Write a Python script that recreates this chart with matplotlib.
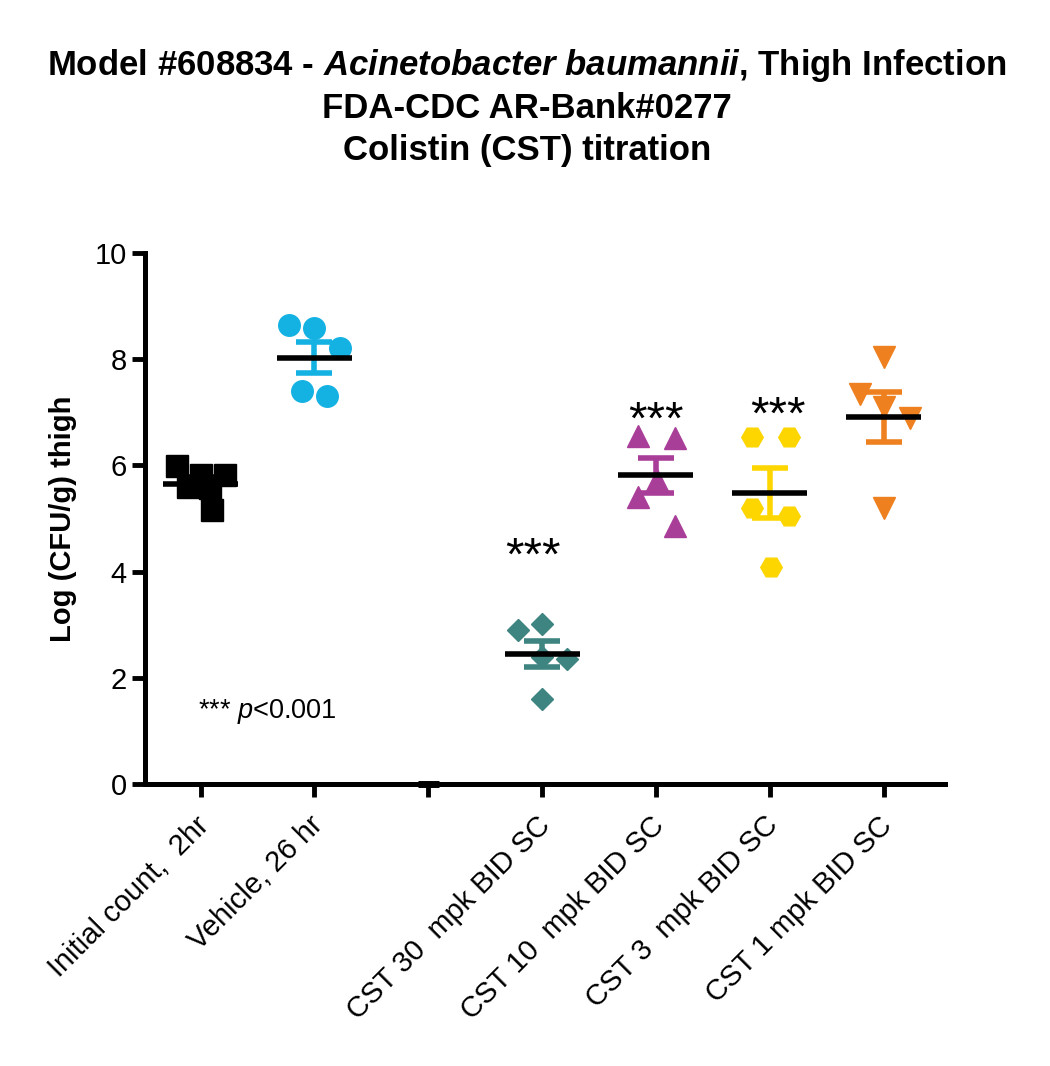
import numpy as np
import matplotlib.pyplot as plt
import matplotlib.transforms as mtransforms

plt.rcParams['font.family'] = ['Liberation Sans', 'DejaVu Sans']
plt.rcParams['mathtext.fontset'] = 'custom'
plt.rcParams['mathtext.rm'] = 'Liberation Sans'
plt.rcParams['mathtext.it'] = 'Liberation Sans:italic'
plt.rcParams['mathtext.bf'] = 'Liberation Sans:bold'
plt.rcParams['mathtext.bfit'] = 'Liberation Sans:italic:bold'

groups = ["Initial count,  2hr", "Vehicle, 26 hr", "", "CST 30  mpk BID SC",
          "CST 10  mpk BID SC", "CST 3  mpk BID SC", "CST 1 mpk BID SC"]

initial_2hr = [5.98, 5.82, 5.82, 5.59, 5.58, 5.16]
vehicle_26hr = [8.64, 8.59, 8.21, 7.40, 7.31]
cst_30 = [2.90, 3.01, 2.40, 2.35, 1.60]
cst_10 = [6.55, 6.52, 5.72, 5.41, 4.86]
cst_3 = [6.54, 6.54, 5.20, 5.05, 4.09]
cst_1 = [8.04, 7.35, 7.10, 6.90, 5.20]

# significance marks: (x, baseline y, text)
signif = [(2.92, 4.04, "***"), (4.0, 6.59, "***"), (5.07, 6.70, "***")]

# group index -> (values, marker, colour, horizontal spread of the points)
series = [
    (0, initial_2hr, 's', '#000000', [-0.21, 0.0, 0.21, -0.11, 0.08, 0.10]),
    (1, vehicle_26hr, 'o', '#14B1E3', [-0.22, 0.0, 0.22, -0.11, 0.11]),
    (3, cst_30, 'D', '#3E8481', [-0.21, 0.0, 0.0, 0.22, 0.0]),
    (4, cst_10, '^', '#A93E98', [-0.16, 0.17, 0.01, -0.16, 0.17]),
    (5, cst_3, 'H', '#FDD600', [-0.16, 0.17, -0.16, 0.17, 0.01]),
    (6, cst_1, 'v', '#EE801F', [0.0, -0.21, 0.0, 0.23, 0.0]),
]

fig = plt.figure(figsize=(10.5, 10.66), dpi=100)
ax = fig.add_axes([0.138, 0.2645, 0.762, 0.4982])

for i, vals, mk, col, dx in series:
    vals = np.array(vals)
    ms = 11 if mk == 'D' else 15.5
    ax.plot(i + np.array(dx), vals, linestyle='none', marker=mk, ms=ms,
            color=col, mec=col, zorder=2)
    mean = vals.mean()
    sem = vals.std(ddof=1) / np.sqrt(len(vals))
    ax.errorbar(i, mean, yerr=sem, color=col, lw=4, capsize=13, capthick=4,
                zorder=3)
    ax.hlines(mean, i - 0.33, i + 0.33, color='black', lw=4, zorder=4)

# empty column
ax.hlines(0, 1.91, 2.09, color='black', lw=5, zorder=4, clip_on=False)

for x, y, s in signif:
    ax.text(x, y, s, ha='center', va='baseline', fontsize=34)

ax.text(0.59, 1.25, "*** $\\it{p}$<0.001", fontsize=19.5, ha='center', va='baseline')

ax.set_xlim(-0.49, 6.54)
ax.set_ylim(0, 10)
ax.set_yticks([0, 2, 4, 6, 8, 10])
ax.set_xticks(range(len(groups)))
ax.set_xticklabels(groups, rotation=45, ha='right', va='top',
                   rotation_mode='anchor', fontsize=21)
ax.tick_params(axis='both', width=3.5, length=9.5, labelsize=21)
ax.tick_params(axis='x', pad=10)
shift = mtransforms.ScaledTranslation(-6 / 100, 0, fig.dpi_scale_trans)
for lab in ax.get_xticklabels():
    lab.set_transform(lab.get_transform() + shift)
for side in ['top', 'right']:
    ax.spines[side].set_visible(False)
for side in ['left', 'bottom']:
    ax.spines[side].set_linewidth(3.6)
ax.set_ylabel("Log (CFU/g) thigh", fontsize=21, fontweight='bold', labelpad=13)

fig.text(0.502, 0.956, "Model #608834 - $\\mathbfit{Acinetobacter\\ baumannii}$, Thigh Infection\n"
         "FDA-CDC AR-Bank#0277\nColistin (CST) titration",
         ha='center', va='top', fontsize=25, fontweight='bold', linespacing=1.33)

fig.savefig('out.png', dpi=100)
